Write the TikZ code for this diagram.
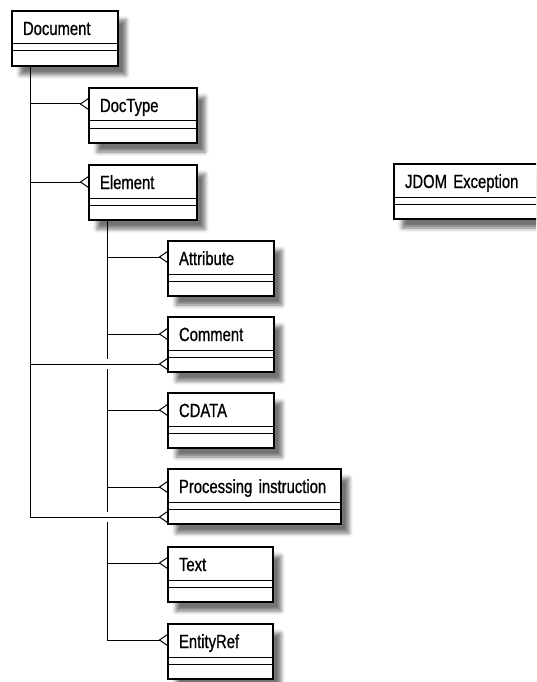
\documentclass[tikz,border=0pt]{standalone}
\usepackage{fontspec}
\setmainfont{Liberation Sans}[FakeStretch=0.78,FakeBold=0.8]
\usetikzlibrary{arrows.meta,shadows.blur}
\tikzset{
  cls/.style={draw=black, line width=1.8pt, fill=white, anchor=north west,
    inner xsep=11pt, inner ysep=0pt, outer sep=0pt,
    text height=24pt, text depth=31pt, align=left,
    font=\fontsize{19}{21}\selectfont,
    blur shadow={shadow xshift=8pt, shadow yshift=-9pt, shadow blur radius=4pt, shadow opacity=55}},
  sepline/.style={line width=1pt},
  conn/.style={line width=1pt},
  agg/.style={-{Straight Barb[reversed,length=8pt,width=11pt,line width=1pt]}}
}
\newcommand{\classbox}[5]{%
  \node[cls, text width=#4] (#1) at (#2,#3) {#5};
  \draw[sepline] ([yshift=-33pt]#1.north west) -- ([yshift=-33pt]#1.north east);
  \draw[sepline] ([yshift=-40pt]#1.north west) -- ([yshift=-40pt]#1.north east);
}
\begin{document}
\begin{tikzpicture}[x=1pt,y=-1pt]
\useasboundingbox (0,0) rectangle (536,682);
\clip (0,0) rectangle (536,682);

\classbox{doc}{12}{11}{84pt}{Document}
\classbox{doctype}{89}{88}{86pt}{DocType}
\classbox{element}{89}{165}{86pt}{Element}
\classbox{jdom}{394}{164}{130pt}{JDOM Exception}
\classbox{attr}{168}{241}{84pt}{Attribute}
\classbox{comment}{168}{317}{84pt}{Comment}
\classbox{cdata}{168}{393}{84pt}{CDATA}
\classbox{pi}{168}{469}{151pt}{Processing instruction}
\classbox{text}{168}{547}{83pt}{Text}
\classbox{entref}{168}{624}{83pt}{EntityRef}

% attachment points
\coordinate (dT) at ([xshift=18pt]doc.south west);
\coordinate (eT) at ([xshift=18pt]element.south west);
\coordinate (pDT) at ([yshift=-16pt]doctype.north west);
\coordinate (pEL) at ([yshift=-17pt]element.north west);
\coordinate (pAT) at ([yshift=-16pt]attr.north west);
\coordinate (pCM) at ([yshift=-17pt]comment.north west);
\coordinate (pCM2) at ([yshift=-47pt]comment.north west);
\coordinate (pCD) at ([yshift=-17pt]cdata.north west);
\coordinate (pPI) at ([yshift=-18pt]pi.north west);
\coordinate (pPI2) at ([yshift=-48pt]pi.north west);
\coordinate (pTX) at ([yshift=-16pt]text.north west);
\coordinate (pER) at ([yshift=-16pt]entref.north west);

% Document connectors
\draw[conn,agg] (dT) |- (pPI2);
\draw[conn,agg] (dT |- pDT) -- (pDT);
\draw[conn,agg] (dT |- pEL) -- (pEL);
\draw[conn,agg] (dT |- pCM2) -- (pCM2);

% Element connectors (with gaps at crossings)
\coordinate (x1) at (eT |- pCM2);
\coordinate (x2) at (eT |- pPI2);
\draw[conn] (eT) -- ([yshift=5pt]x1);
\draw[conn] ([yshift=-5pt]x1) -- ([yshift=5pt]x2);
\draw[conn,agg] ([yshift=-5pt]x2) |- (pER);
\draw[conn,agg] (eT |- pAT) -- (pAT);
\draw[conn,agg] (eT |- pCM) -- (pCM);
\draw[conn,agg] (eT |- pCD) -- (pCD);
\draw[conn,agg] (eT |- pPI) -- (pPI);
\draw[conn,agg] (eT |- pTX) -- (pTX);
\end{tikzpicture}
\end{document}
